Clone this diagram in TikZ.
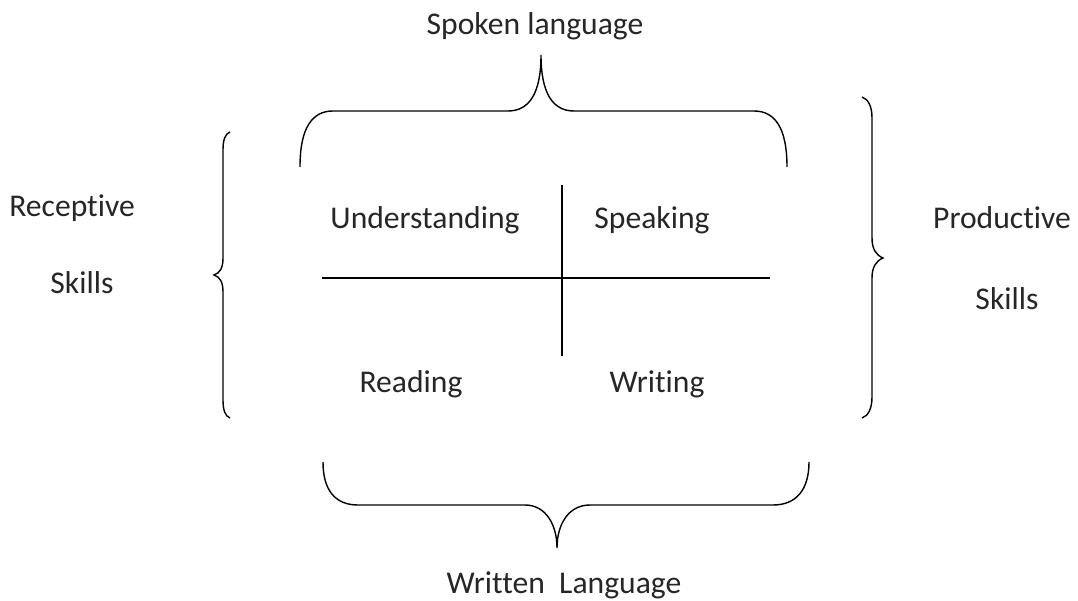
\documentclass[tikz,border=0pt]{standalone}
\usepackage{fontspec}
\setmainfont{Carlito}[Ligatures=NoCommon]
\usepackage{tikz}

\begin{document}
\begin{tikzpicture}[x=0.02cm, y=-0.02cm,
    every node/.style = {inner sep=0pt, anchor=base,
      font=\fontsize{18}{21}\selectfont, text=black!85},
    brace/.style = {line width=0.8pt},
    rule/.style = {line width=0.9pt}]
  \useasboundingbox (0,0) rectangle (1078,601);
  % labels
  \node (spoken)  at (535,35)  {Spoken language};
  \node (written) at (564,593) {Written\ \ Language};
  \node (recep)   at (72,216)  {Receptive};
  \node (recsk)   at (82,294)  {Skills};
  \node (prod)    at (1002,229) {Productive};
  \node (prodsk)  at (1007,309) {Skills};
  \node (under)   at (425,229) {Understanding};
  \node (speak)   at (652,229) {Speaking};
  \node (read)    at (411,392) {Reading};
  \node (write)   at (657,392) {Writing};
  % cross
  \coordinate (hl) at (322,278);
  \coordinate (hr) at (770,278);
  \coordinate (vt) at (562,185);
  \coordinate (vb) at (562,356);
  \draw[rule] (hl) -- (hr);
  \draw[rule] (vt) -- (vb);
  % top brace
  \draw[brace] (300,167) .. controls (300,128) and (312,111) .. (333,111)
    -- (508,111) .. controls (530,111) and (541,92) .. (541,55)
    .. controls (541,92) and (552,111) .. (574,111)
    -- (754,111) .. controls (775,111) and (787,128) .. (787,167);
  % bottom brace
  \draw[brace] (323,462) .. controls (323,490) and (335,505) .. (358,505)
    -- (525,505) .. controls (546,505) and (557,525) .. (557,548)
    .. controls (557,525) and (568,505) .. (590,505)
    -- (773,505) .. controls (796,505) and (809,490) .. (809,462);
  % left brace
  \draw[brace] (230,132) .. controls (225,134) and (223,140) .. (223,150)
    -- (223,258) .. controls (223,268) and (220,273) .. (214,275)
    .. controls (220,277) and (223,282) .. (223,292)
    -- (223,400) .. controls (223,410) and (225,416) .. (230,418);
  % right brace
  \draw[brace] (862,97) .. controls (868,99) and (872,106) .. (872,118)
    -- (872,238) .. controls (872,249) and (876,255) .. (883,258)
    .. controls (876,261) and (872,267) .. (872,278)
    -- (872,397) .. controls (872,409) and (868,416) .. (862,418);
\end{tikzpicture}
\end{document}
